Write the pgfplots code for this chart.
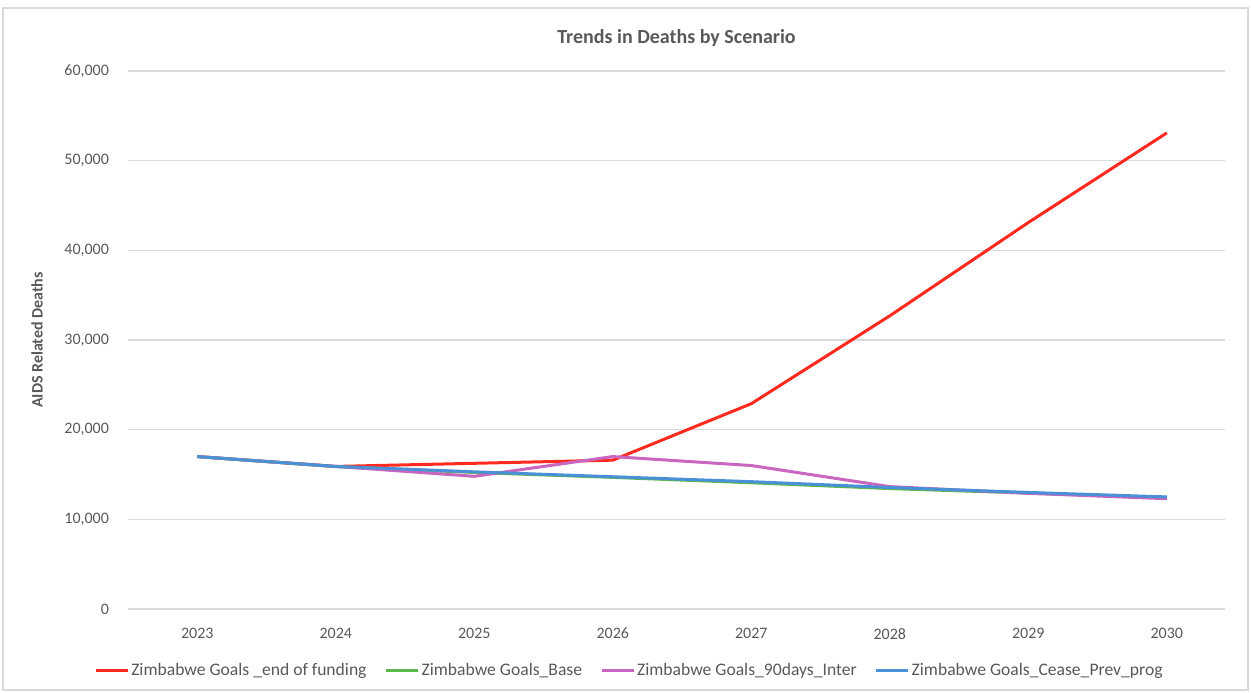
\documentclass[border=0pt]{standalone}
\usepackage{fontspec}
\setmainfont{Carlito}
\usepackage{pgfplots}
\pgfplotsset{compat=1.18}
\definecolor{txt}{HTML}{595959}
\definecolor{grd}{HTML}{D9D9D9}
\definecolor{cred}{HTML}{FF2A1F}
\definecolor{cgreen}{HTML}{5CB848}
\definecolor{cpurple}{HTML}{C866C0}
\definecolor{cblue}{HTML}{4A90D6}
\begin{document}
\begin{tikzpicture}
\path (-64pt,-41.5pt) rectangle (561.5pt,304.5pt);
\draw[grd, line width=0.6pt] (-62.5pt,-40.5pt) rectangle (560pt,300.5pt);
\begin{axis}[
  at={(0,0)}, anchor=south west,
  scale only axis, width=548.5pt, height=269pt,
  xmin=2022.5, xmax=2030.42, ymin=0, ymax=60000,
  xtick={2023,2024,2025,2026,2027,2028,2029,2030},
  ytick={0,10000,20000,30000,40000,50000,60000},
  xticklabels={2023,2024,2025,2026,2027,2028,2029,2030},
  scaled y ticks=false,
  yticklabel style={/pgf/number format/1000 sep={,}},
  /pgf/number format/assume math mode=true,
  axis line style={draw=none}, major tick length=0pt,
  ymajorgrids, grid style={color=grd, line width=0.7pt},
  ticklabel style={font=\fontsize{8}{10}\selectfont, text=txt},
  xticklabel style={yshift=-6pt},
  yticklabel style={xshift=-6pt},
  title={Trends in Deaths by Scenario},
  title style={font=\bfseries\fontsize{10}{12}\selectfont, text=txt, at={(axis description cs:0.5,1)}, anchor=center, yshift=10.5pt},
  ylabel={AIDS Related Deaths},
  ylabel style={font=\bfseries\fontsize{8}{10}\selectfont, text=txt, at={(axis description cs:-0.083,0.5)}, anchor=center},
  legend style={at={(axis description cs:0.458,-0.115)}, anchor=center, draw=none, fill=none,
    legend columns=4, font=\fontsize{8.8}{10}\selectfont, text=txt,
    /tikz/every odd column/.append style={column sep=-1pt},
    /tikz/every even column/.append style={column sep=7pt}},
  legend cell align=left,
  legend image code/.code={\draw[#1, line width=1.5pt] (0pt,0pt) -- (16pt,0pt);},
  every axis plot/.append style={line width=1.5pt, line join=round},
]
\addplot[cred, mark=none] coordinates {(2023,17000) (2024,15900) (2025,16250) (2026,16600) (2027,22900) (2028,32700) (2029,43100) (2030,53100)};
\addlegendentry{Zimbabwe Goals \_end of funding}
\addplot[cgreen, mark=none] coordinates {(2023,17000) (2024,15880) (2025,15230) (2026,14680) (2027,14080) (2028,13430) (2029,12930) (2030,12430)};
\addlegendentry{Zimbabwe Goals\_Base}
\addplot[cpurple, mark=none] coordinates {(2023,17000) (2024,15900) (2025,14800) (2026,17000) (2027,16000) (2028,13650) (2029,12900) (2030,12300)};
\addlegendentry{Zimbabwe Goals\_90days\_Inter}
\addplot[cblue, mark=none] coordinates {(2023,17000) (2024,15900) (2025,15300) (2026,14750) (2027,14200) (2028,13550) (2029,13000) (2030,12500)};
\addlegendentry{Zimbabwe Goals\_Cease\_Prev\_prog}
\end{axis}
\end{tikzpicture}
\end{document}
